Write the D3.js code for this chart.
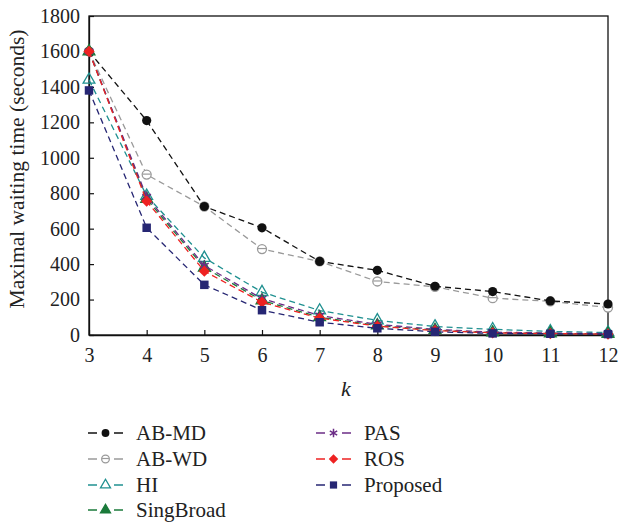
<!DOCTYPE html>
<html>
<head>
<meta charset="utf-8">
<script src="https://cdn.jsdelivr.net/npm/d3@7"></script>
<style>
  body { margin: 0; background: #fff; }
  svg text { font-family: "Liberation Serif", "DejaVu Serif", serif; fill: #222; }
</style>
</head>
<body>
<svg id="chart" width="618" height="525"></svg>
<script>
// values
var kValues = [3, 4, 5, 6, 7, 8, 9, 10, 11, 12];
var yTicks = [0, 200, 400, 600, 800, 1000, 1200, 1400, 1600, 1800];

var abMD      = [1600, 1210, 725, 605, 415, 365, 275, 245, 192, 175];
var abWD      = [1600, 905, 725, 485, 415, 302, 272, 208, 190, 155];
var hiVals    = [1440, 785, 435, 242, 138, 82, 48, 32, 20, 14];
var singBroad = [1600, 768, 380, 195, 100, 54, 28, 14, 9, 6];
var pasVals   = [1600, 780, 392, 205, 110, 60, 32, 16, 11, 8];
var rosVals   = [1600, 755, 360, 185, 95, 50, 25, 12, 8, 5];
var proposed  = [1380, 605, 283, 140, 72, 38, 18, 9, 7, 5];

var seriesNames = ['AB-MD', 'AB-WD', 'HI', 'SingBroad', 'PAS', 'ROS', 'Proposed'];
var seriesValues = [abMD, abWD, hiVals, singBroad, pasVals, rosVals, proposed];
var seriesColors = ['#111111', '#9a9a9a', '#1f9090', '#1a7a3a', '#6b2d86', '#ee2222', '#262673'];
var seriesMarkers = ['dot', 'ring', 'triOpen', 'triFill', 'star', 'diamond', 'square'];

var svg = d3.select('#chart');
var plotL = 89, plotR = 608, plotT = 16, plotB = 335;

var x = d3.scaleLinear().domain([3, 12]).range([plotL, plotR]);
var y = d3.scaleLinear().domain([0, 1800]).range([plotB, plotT]);

// frame
svg.append('rect')
    .attr('x', plotL).attr('y', plotT)
    .attr('width', plotR - plotL).attr('height', plotB - plotT)
    .attr('fill', 'none').attr('stroke', '#111').attr('stroke-width', 1.3);

// axes with inward ticks
var xAxis = svg.append('g')
    .attr('transform', 'translate(0,' + plotB + ')')
    .call(d3.axisBottom(x).tickValues(kValues).tickSizeInner(-5).tickSizeOuter(0).tickPadding(13));
var yAxis = svg.append('g')
    .attr('transform', 'translate(' + plotL + ',0)')
    .call(d3.axisLeft(y).tickValues(yTicks).tickFormat(d3.format('d')).tickSizeInner(-5).tickSizeOuter(0).tickPadding(9));

[xAxis, yAxis].forEach(function (g) {
    g.select('.domain').attr('stroke', '#111').attr('stroke-width', 1.3);
    g.selectAll('.tick line').attr('stroke', '#111').attr('stroke-width', 1.2);
    g.selectAll('.tick text')
        .style('font-family', '"Liberation Serif", "DejaVu Serif", serif')
        .style('font-size', '20px').attr('fill', '#222');
});

// axis titles
svg.append('text')
    .attr('x', 346).attr('y', 396)
    .attr('text-anchor', 'middle')
    .style('font-size', '22px').style('font-style', 'italic')
    .text('k');
svg.append('text')
    .attr('transform', 'translate(24,169) rotate(-90)')
    .attr('text-anchor', 'middle')
    .style('font-size', '21.5px')
    .text('Maximal waiting time (seconds)');

function drawMarker(g, type, color, cx, cy, scale) {
    var s = scale || 1;
    if (type === 'dot') {
        g.append('circle').attr('cx', cx).attr('cy', cy).attr('r', 4.6 * s).attr('fill', color);
    } else if (type === 'ring') {
        g.append('circle').attr('cx', cx).attr('cy', cy).attr('r', 4.5 * s)
            .attr('fill', '#fff').attr('stroke', color).attr('stroke-width', 1.3);
        g.append('line').attr('x1', cx - 4 * s).attr('x2', cx + 4 * s)
            .attr('y1', cy - 0.5).attr('y2', cy - 0.5)
            .attr('stroke', color).attr('stroke-width', 1.2);
    } else if (type === 'triOpen' || type === 'triFill') {
        var tri = d3.symbol().type(d3.symbolTriangle).size(60 * s * s);
        g.append('path').attr('d', tri()).attr('transform', 'translate(' + cx + ',' + cy + ')')
            .attr('fill', type === 'triFill' ? color : 'none')
            .attr('stroke', color).attr('stroke-width', 1.3);
    } else if (type === 'star') {
        var st = d3.symbol().type(d3.symbolAsterisk).size(70 * s * s);
        g.append('path').attr('d', st()).attr('transform', 'translate(' + cx + ',' + cy + ')')
            .attr('fill', 'none').attr('stroke', color).attr('stroke-width', 1.5);
    } else if (type === 'diamond') {
        var dm = d3.symbol().type(d3.symbolDiamond2).size(80 * s * s);
        g.append('path').attr('d', dm()).attr('transform', 'translate(' + cx + ',' + cy + ')')
            .attr('fill', color);
    } else if (type === 'square') {
        var sq = d3.symbol().type(d3.symbolSquare).size(72 * s * s);
        g.append('path').attr('d', sq()).attr('transform', 'translate(' + cx + ',' + cy + ')')
            .attr('fill', color);
    }
}

var line = d3.line()
    .x(function (d, i) { return x(kValues[i]); })
    .y(function (d) { return y(d); });

// draw series back to front so Proposed sits on top
var order = [1, 0, 2, 3, 4, 5, 6];
order.forEach(function (si) {
    var g = svg.append('g').attr('class', 'series');
    g.append('path')
        .datum(seriesValues[si])
        .attr('d', line)
        .attr('fill', 'none')
        .attr('stroke', seriesColors[si])
        .attr('stroke-width', 1.3)
        .attr('stroke-dasharray', '6,4');
    seriesValues[si].forEach(function (v, i) {
        drawMarker(g, seriesMarkers[si], seriesColors[si], x(kValues[i]), y(v), 1);
    });
});

// legend
var legendPos = [
    [88, 433], [88, 459], [88, 485], [88, 510],
    [316, 433], [316, 459], [316, 485]
];
seriesNames.forEach(function (name, i) {
    var lx = legendPos[i][0], ly = legendPos[i][1];
    var g = svg.append('g');
    g.append('line').attr('x1', lx).attr('x2', lx + 9).attr('y1', ly).attr('y2', ly)
        .attr('stroke', seriesColors[i]).attr('stroke-width', 1.5);
    g.append('line').attr('x1', lx + 26).attr('x2', lx + 35).attr('y1', ly).attr('y2', ly)
        .attr('stroke', seriesColors[i]).attr('stroke-width', 1.5);
    drawMarker(g, seriesMarkers[i], seriesColors[i], lx + 17.5, ly, 0.85);
    g.append('text').attr('x', lx + 48).attr('y', ly + 7)
        .style('font-size', '21px')
        .text(name);
});
</script>
</body>
</html>
